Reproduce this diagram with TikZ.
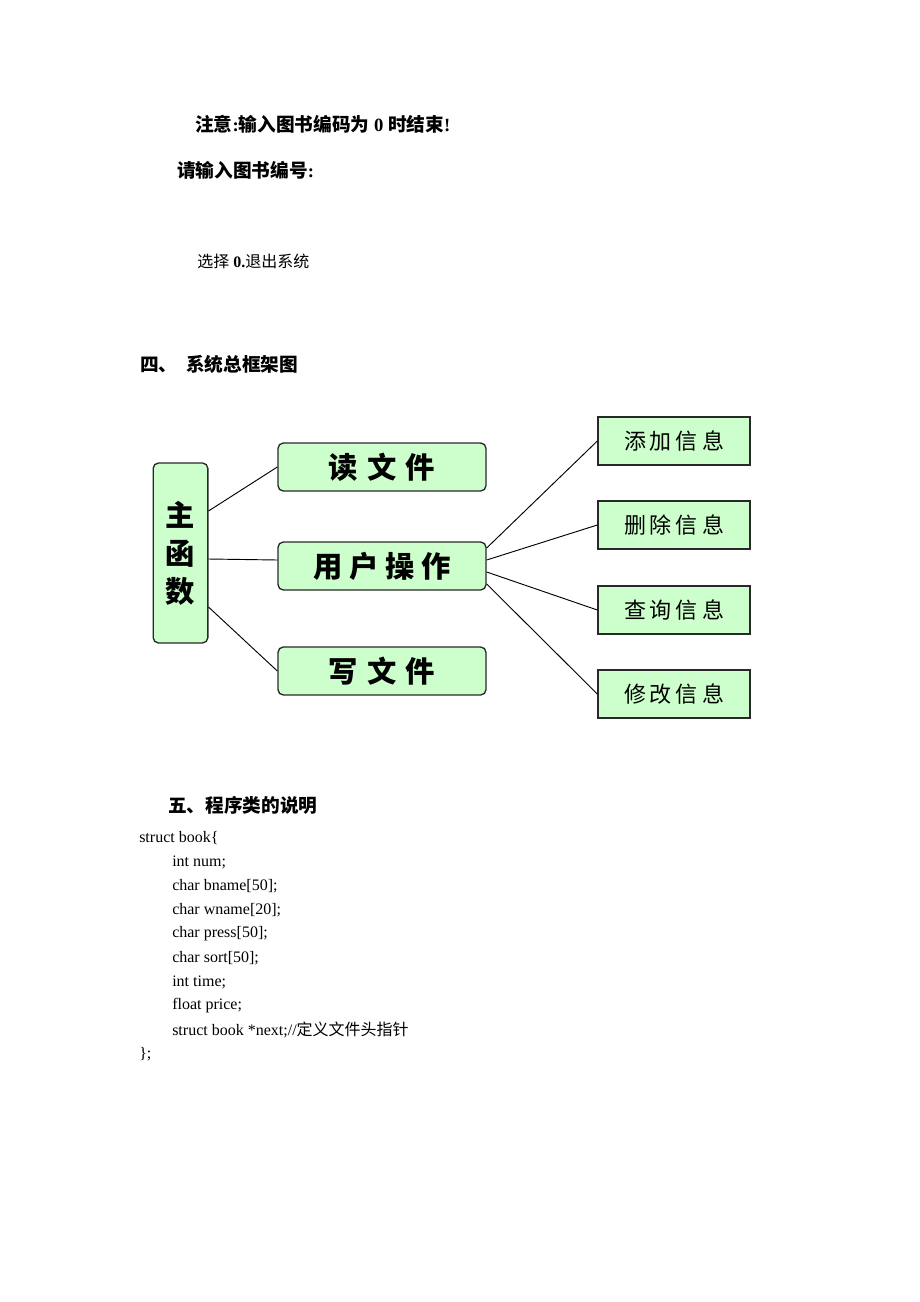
\documentclass[tikz,border=0pt]{standalone}
\usepackage{fontspec}
\setmainfont{Liberation Serif}
\newfontfamily\cjk{Noto Sans CJK SC}
\usetikzlibrary{positioning}
\definecolor{boxgreen}{RGB}{204,255,204}
\definecolor{boxline}{RGB}{40,40,40}
\tikzset{
  mainbox/.style={draw=boxline, line width=1pt, fill=boxgreen, rounded corners=4pt,
    minimum width=156pt, minimum height=36pt, inner sep=0pt,
    font=\cjk\bfseries\fontsize{22}{26}\selectfont},
  subbox/.style={draw=boxline, line width=1pt, fill=boxgreen,
    minimum width=114pt, minimum height=36pt, inner sep=0pt,
    font=\cjk\fontsize{16.5}{20}\selectfont},
  link/.style={draw=black, line width=0.7pt},
  plain/.style={anchor=west, inner sep=0pt, font=\fontsize{12}{14}\selectfont},
  heading/.style={anchor=west, inner sep=0pt, font=\bfseries\fontsize{14}{16}\selectfont},
}
\begin{document}
\begin{tikzpicture}[x=0.75pt, y=-0.75pt]
        \useasboundingbox (0,0) rectangle (920,1302);

        % Prompt lines
        \node [heading] (note) at (195,124) {{\cjk\bfseries 注意}:{\cjk\bfseries 输入图书编码为} 0 {\cjk\bfseries 时结束}!};
        \node [heading] (ask) at (177,170) {{\cjk\bfseries 请输入图书编号}:};
        \node [plain] (quit) at (197,261) {{\cjk 选择}\textbf{ 0.}{\cjk 退出系统}};

        % Heading four
        \node [heading] (head4) at (140,364) {{\cjk\bfseries 四、\ \ 系统总框架图}};

        % Left column
        \node [mainbox, minimum width=41pt, minimum height=135pt, align=center,
          font=\cjk\bfseries\fontsize{22}{28.5}\selectfont] (main) at (180.5,553) {主\\函\\数};

        % Middle column
        \node [mainbox] (read) at (382,467) {读\hspace{7pt}文\hspace{7pt}件};
        \node [mainbox] (ops) at (382,566) {用\hspace{5pt}户\hspace{5pt}操\hspace{5pt}作};
        \node [mainbox] (write) at (382,671) {写\hspace{7pt}文\hspace{7pt}件};

        % Right column
        \node [subbox] (add) at (674,441) {添\hspace{3pt}加\hspace{3pt}信\hspace{3pt}息};
        \node [subbox] (del) at (674,525) {删\hspace{3pt}除\hspace{3pt}信\hspace{3pt}息};
        \node [subbox] (find) at (674,610) {查\hspace{3pt}询\hspace{3pt}信\hspace{3pt}息};
        \node [subbox] (edit) at (674,694) {修\hspace{3pt}改\hspace{3pt}信\hspace{3pt}息};

        % Drawing links from main
        \draw [link] ([yshift=31.5pt]main.east) -- (read.west);
        \draw [link] ([yshift=-4.5pt]main.east) -- ([yshift=4.5pt]ops.west);
        \draw [link] ([yshift=-40.5pt]main.east) -- (write.west);

        % Drawing links from ops
        \draw [link] ([yshift=13.5pt]ops.east) -- (add.west);
        \draw [link] ([yshift=4.5pt]ops.east) -- (del.west);
        \draw [link] ([yshift=-4.5pt]ops.east) -- (find.west);
        \draw [link] ([yshift=-13.5pt]ops.east) -- (edit.west);

        % Heading five
        \node [heading] (head5) at (168,805) {{\cjk\bfseries 五、程序类的说明}};

        % Code lines
        \node [plain] (c0) at (139,838) {struct book\{};
        \node [plain] (c1) at (172,862) {int num;};
        \node [plain] (c2) at (172,886) {char bname[50];};
        \node [plain] (c3) at (172,910) {char wname[20];};
        \node [plain] (c4) at (172,934) {char press[50];};
        \node [plain] (c5) at (172,958) {char sort[50];};
        \node [plain] (c6) at (172,982) {int time;};
        \node [plain] (c7) at (172,1006) {float price;};
        \node [plain] (c8) at (172,1030) {struct book *next;//{\cjk 定义文件头指针}};
        \node [plain] (c9) at (139,1054) {\};};
\end{tikzpicture}
\end{document}
